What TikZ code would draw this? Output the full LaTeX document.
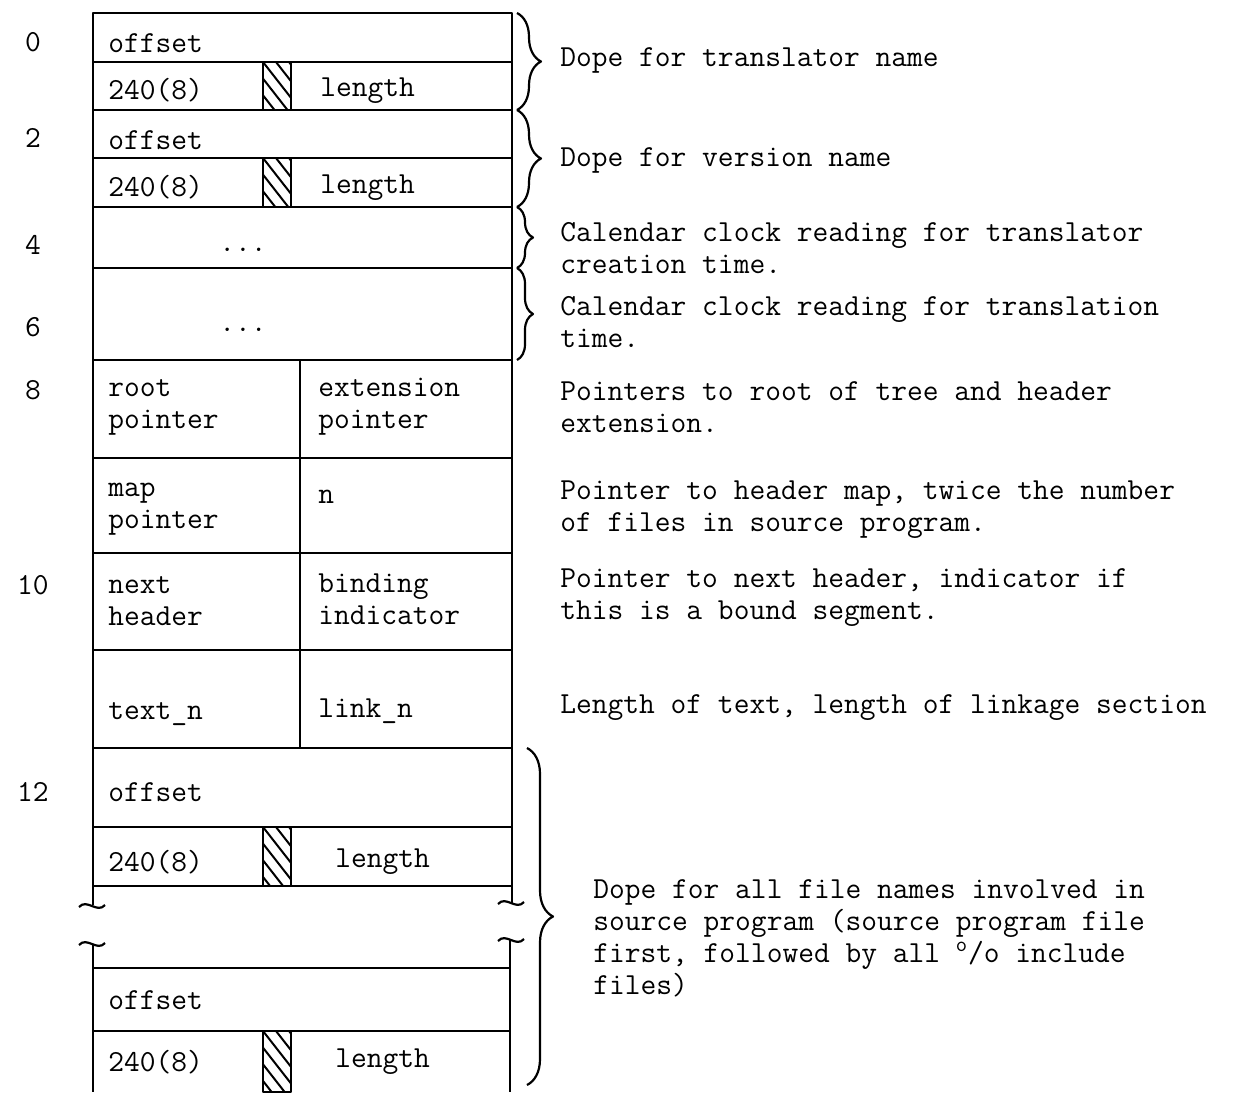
\documentclass[tikz,border=0pt]{standalone}
\usetikzlibrary{decorations.pathreplacing}
\tikzset{
  frame/.style={line width=1.1pt},
  txt/.style={inner sep=0pt, font={\fontsize{15.3}{16}\selectfont\ttfamily}, align=left},
  cell/.style={txt, anchor=west},
  note/.style={txt, anchor=west},
  addr/.style={txt, anchor=center},
  dope/.style={decorate, decoration={brace, amplitude=#1}, line width=1.1pt},
  brk/.pic={\draw[line width=1.1pt] (-13,1) .. controls (-5,-8) and (5,8) .. (13,-1);}
}
\begin{document}
\begin{tikzpicture}[x=0.5pt, y=-0.5pt, line join=round]
\useasboundingbox (0,0) rectangle (1241,1092);
% Header frame, upper part
\draw[frame] (93,905) -- (93,13) -- (512,13) -- (512,903);
\foreach \y in {62,110,158,207,268,360,458,553,650,748,827,886}
  \draw[frame] (93,\y) -- (512,\y);
\draw[frame] (300,360) -- (300,748);
% Lower part, after the break
\draw[frame] (93,944) -- (93,1092);
\draw[frame] (510,940) -- (510,1092);
\foreach \y in {968,1031}
  \draw[frame] (93,\y) -- (510,\y);
\pic at (92,906) {brk};
\pic at (511,903) {brk};
\pic at (92,944) {brk};
\pic at (511,940) {brk};
% Hatched bytes
\foreach \top/\bot in {62/110,158/207,827/886,1031/1092} {
  \draw[frame] (263,\top) rectangle (291,\bot);
  \begin{scope}
    \clip (263,\top) rectangle (291,\bot);
    \foreach \k in {-5,...,2}
      \draw[line width=1pt] (263+\k*13,\top) -- ++(50,64);
  \end{scope}
}
% Word addresses
\node[addr] (a0) at (33,42) {0};
\node[addr] (a2) at (33,138) {2};
\node[addr] (a4) at (33,245) {4};
\node[addr] (a6) at (33,327) {6};
\node[addr] (a8) at (33,390) {8};
\node[addr] (a10) at (33,585) {10};
\node[addr] (a12) at (33,792) {12};
% Cell contents
\node[cell] (of0) at (108,43) {offset};
\node[cell] (ty0) at (108,90) {240(8)};
\node[cell] (ln0) at (320,91) {length};
\node[cell] (of2) at (108,140) {offset};
\node[cell] (ty2) at (108,187) {240(8)};
\node[cell] (ln2) at (320,188) {length};
\node[addr] (dt4) at (243,250) {...};
\node[addr] (dt6) at (243,330) {...};
\node[cell] (rt) at (108,407) {root\\pointer};
\node[cell] (ex) at (318,407) {extension\\pointer};
\node[cell] (mp) at (108,509) {map\\pointer};
\node[cell] (nn) at (318,497) {n};
\node[cell] (nx) at (108,601) {next\\header};
\node[cell] (bd) at (318,599) {binding\\indicator};
\node[cell] (tx) at (108,714) {text\_n};
\node[cell] (lk) at (318,711) {link\_n};
\node[cell] (of12) at (108,792) {offset};
\node[cell] (ty12) at (108,862) {240(8)};
\node[cell] (ln12) at (335,862) {length};
\node[cell] (ofz) at (108,1000) {offset};
\node[cell] (tyz) at (108,1062) {240(8)};
\node[cell] (lnz) at (335,1062) {length};
% Braces
\draw[dope=12pt] (517,13) -- (517,110);
\draw[dope=12pt] (517,110) -- (517,207);
\draw[dope=8pt] (517,207) -- (517,268);
\draw[dope=8pt] (517,268) -- (517,360);
\draw[dope=13pt] (527,748) -- (527,1085);
% Notes
\node[note] (d0) at (560,60) {Dope for translator name};
\node[note] (d2) at (560,160) {Dope for version name};
\node[note] (c4) at (560,248) {Calendar clock reading for translator\\creation time.};
\node[note] (c6) at (560,322) {Calendar clock reading for translation\\time.};
\node[note] (p8) at (560,407) {Pointers to root of tree and header\\extension.};
\node[note] (p9) at (560,510) {Pointer to header map, twice the number\\of files in source program.};
\node[note] (p10) at (560,598) {Pointer to next header, indicator if\\this is a bound segment.};
\node[note] (p11) at (560,708) {Length of text, length of linkage section};
\node[note] (d12) at (593,938) {Dope for all file names involved in\\source program (source program file\\first, followed by all \textsuperscript{o}/o include\\files)};
\end{tikzpicture}
\end{document}
